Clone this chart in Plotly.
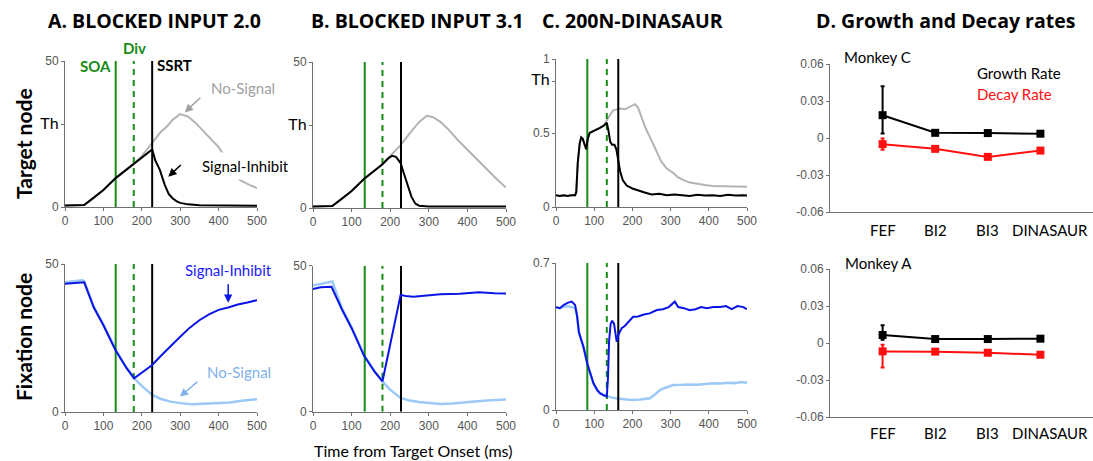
import plotly.graph_objects as go

W, H = 1093, 461

# ---------------- data ----------------
# Marker times (ms): SOA, divergence, SSRT for each model
soa_ms = [132, 134, 82]
div_ms = [179, 180, 133]
ssrt_ms = [227, 228, 163]
th_target = [28.1, 28.1, 0.85]

# A. Blocked Input 2.0 - target node
a_tgt_ns_t = [0, 50, 75, 100, 132, 160, 180, 200, 227, 250, 265, 280, 299, 320, 340, 360, 380, 400, 420, 440, 456, 480, 500]
a_tgt_ns_v = [0.5, 0.7, 3.2, 5.8, 9.9, 12.8, 15.0, 17.4, 22.0, 25.8, 27.5, 29.8, 31.8, 31.0, 28.8, 26.0, 23.2, 20.5, 16.5, 12.5, 9.2, 7.6, 6.5]
a_tgt_si_t = [0, 50, 75, 100, 132, 160, 180, 200, 215, 227, 235, 247, 260, 270, 280, 290, 300, 320, 350, 400, 450, 500]
a_tgt_si_v = [0.5, 0.7, 3.2, 5.8, 9.9, 12.8, 15.0, 17.2, 18.6, 19.7, 16.0, 12.7, 7.5, 4.5, 3.0, 2.0, 1.4, 0.9, 0.6, 0.5, 0.4, 0.4]
# A. Blocked Input 2.0 - fixation node
a_fix_ns_t = [0, 20, 45, 50, 75, 100, 132, 160, 180, 200, 227, 250, 275, 300, 330, 360, 400, 430, 460, 500]
a_fix_ns_v = [43.8, 44.0, 44.5, 44.2, 35.5, 29.5, 21.0, 15.0, 11.4, 8.8, 5.8, 4.4, 3.5, 3.0, 2.6, 2.8, 3.1, 3.2, 3.8, 4.3]
a_fix_si_t = [0, 20, 45, 50, 75, 100, 132, 160, 180, 200, 227, 250, 275, 300, 325, 350, 375, 400, 425, 450, 475, 500]
a_fix_si_v = [43.3, 43.5, 44.0, 43.8, 35.3, 29.3, 20.8, 14.9, 11.4, 13.2, 15.9, 19.0, 22.3, 25.4, 28.5, 31.0, 33.0, 34.5, 35.3, 36.3, 37.0, 37.8]

# B. Blocked Input 3.1 - target node
b_tgt_ns_t = [0, 50, 75, 100, 132, 160, 180, 200, 227, 250, 275, 295, 310, 330, 350, 375, 400, 425, 450, 475, 500]
b_tgt_ns_v = [0.5, 0.7, 3.2, 5.8, 9.9, 12.8, 15.0, 17.8, 21.5, 25.5, 29.5, 31.6, 31.2, 29.5, 27.0, 23.3, 19.9, 16.6, 13.3, 10.0, 7.0]
b_tgt_si_t = [0, 50, 75, 100, 132, 160, 180, 195, 205, 215, 227, 235, 245, 255, 265, 275, 300, 400, 500]
b_tgt_si_v = [0.5, 0.7, 3.2, 5.8, 9.9, 12.8, 15.0, 17.0, 17.9, 17.5, 15.4, 12.0, 7.5, 3.9, 1.5, 0.8, 0.5, 0.5, 0.5]
# B. Blocked Input 3.1 - fixation node
b_fix_ns_t = [0, 40, 50, 75, 100, 132, 160, 180, 200, 227, 250, 275, 300, 330, 360, 400, 450, 500]
b_fix_ns_v = [43.2, 44.5, 44.6, 35.5, 29.0, 19.4, 13.8, 10.4, 7.5, 4.7, 3.8, 3.3, 3.0, 2.6, 2.8, 3.3, 3.8, 4.2]
b_fix_si_t = [0, 20, 48, 75, 100, 132, 160, 180, 227, 240, 260, 300, 330, 380, 430, 470, 500]
b_fix_si_v = [42.0, 42.6, 42.8, 35.0, 28.6, 19.2, 13.6, 10.4, 40.0, 39.6, 39.4, 39.8, 40.2, 40.4, 40.9, 40.6, 40.5]

# C. 200N-DINASAUR - target node
c_tgt_si_t = [0, 10, 20, 30, 40, 50, 53, 57, 62, 66, 70, 75, 79, 83, 88, 95, 105, 115, 125, 133, 137, 142, 147, 153, 158, 163, 168, 175, 185, 200, 215, 230, 250, 270, 290, 310, 330, 350, 370, 390, 410, 430, 450, 470, 490, 500]
c_tgt_si_v = [0.08, 0.075, 0.08, 0.075, 0.08, 0.08, 0.10, 0.30, 0.43, 0.47, 0.46, 0.42, 0.39, 0.46, 0.50, 0.51, 0.52, 0.535, 0.55, 0.57, 0.52, 0.44, 0.42, 0.42, 0.39, 0.32, 0.24, 0.18, 0.145, 0.125, 0.11, 0.10, 0.085, 0.09, 0.08, 0.085, 0.08, 0.075, 0.082, 0.078, 0.08, 0.075, 0.082, 0.078, 0.08, 0.078]
c_tgt_ns_t = [0, 10, 20, 30, 40, 50, 53, 57, 62, 66, 70, 75, 79, 83, 88, 95, 105, 115, 125, 130, 135, 141, 150, 160, 170, 180, 190, 200, 207, 215, 225, 235, 250, 262, 275, 290, 307, 320, 335, 351, 370, 390, 410, 430, 450, 470, 490, 500]
c_tgt_ns_v = [0.08, 0.075, 0.08, 0.075, 0.08, 0.08, 0.10, 0.30, 0.43, 0.47, 0.46, 0.42, 0.39, 0.46, 0.50, 0.51, 0.52, 0.535, 0.55, 0.575, 0.60, 0.62, 0.655, 0.66, 0.665, 0.66, 0.675, 0.685, 0.695, 0.67, 0.60, 0.53, 0.45, 0.38, 0.31, 0.26, 0.23, 0.20, 0.18, 0.165, 0.155, 0.148, 0.142, 0.14, 0.14, 0.137, 0.135, 0.137]
# C. 200N-DINASAUR - fixation node
c_fix_ns_t = [0, 10, 20, 30, 40, 50, 55, 60, 65, 72, 82, 90, 98, 108, 115, 125, 133, 145, 160, 180, 200, 220, 246, 260, 272, 285, 307, 330, 350, 370, 390, 412, 430, 450, 470, 485, 500]
c_fix_ns_v = [0.49, 0.485, 0.49, 0.495, 0.49, 0.485, 0.45, 0.37, 0.34, 0.30, 0.22, 0.17, 0.127, 0.095, 0.08, 0.07, 0.065, 0.06, 0.055, 0.05, 0.048, 0.05, 0.056, 0.075, 0.095, 0.105, 0.119, 0.12, 0.122, 0.12, 0.125, 0.127, 0.126, 0.13, 0.128, 0.133, 0.13]
c_fix_si_t = [0, 10, 20, 30, 41, 50, 55, 60, 65, 72, 82, 90, 98, 108, 115, 125, 133, 136, 139, 143, 147, 152, 156, 159, 164, 172, 180, 190, 202, 215, 230, 245, 264, 280, 295, 311, 320, 335, 350, 365, 380, 395, 412, 430, 445, 460, 475, 490, 500]
c_fix_si_v = [0.49, 0.485, 0.50, 0.51, 0.516, 0.50, 0.45, 0.37, 0.34, 0.30, 0.22, 0.17, 0.127, 0.095, 0.08, 0.07, 0.065, 0.15, 0.33, 0.41, 0.425, 0.41, 0.36, 0.325, 0.36, 0.39, 0.40, 0.42, 0.444, 0.445, 0.455, 0.46, 0.476, 0.48, 0.49, 0.516, 0.49, 0.485, 0.475, 0.48, 0.49, 0.485, 0.49, 0.49, 0.495, 0.48, 0.495, 0.49, 0.48]

# D. Growth and decay rates
sites = ["FEF", "BI2", "BI3", "DINASAUR"]
site_pos = [1, 2, 3, 4]
growth_c = [0.0185, 0.0042, 0.0040, 0.0035]
growth_c_up = [0.0235, 0.0008, 0.0008, 0.0008]
growth_c_dn = [0.0148, 0.0008, 0.0008, 0.0008]
decay_c = [-0.0050, -0.0088, -0.0153, -0.0102]
decay_c_up = [0.0045, 0.0008, 0.0008, 0.0008]
decay_c_dn = [0.0045, 0.0008, 0.0008, 0.0008]
growth_a = [0.0065, 0.0032, 0.0032, 0.0035]
growth_a_up = [0.0078, 0.0006, 0.0006, 0.0006]
growth_a_dn = [0.0038, 0.0006, 0.0006, 0.0006]
decay_a = [-0.0068, -0.0070, -0.0079, -0.0095]
decay_a_up = [0.0054, 0.0006, 0.0006, 0.0006]
decay_a_dn = [0.0130, 0.0006, 0.0006, 0.0006]

# ---------------- styling ----------------
GREEN = "#168c16"
GRAY = "#b3b3b3"
BLUE = "#0a14e6"
LIGHT = "#9cc9f5"
RED = "#ff1010"
TICK = "#555555"
AX = "#6f6f6f"
TXT = "Lato"
HEAD = "Open Sans"
NUM = "Liberation Sans"


def xp(px):
    return px / W


def yp(py):
    return 1 - py / H


fig = go.Figure()

# panel layout in pixels: (left, right, top, bottom)
boxes = {
    1: (65, 257, 61, 207), 2: (313, 506, 62, 208), 3: (556, 747, 59, 207), 4: (830, 1093, 64, 212),
    5: (65, 257, 264, 412), 6: (313, 506, 265.7, 411.7), 7: (556, 747, 263, 410), 8: (830, 1093, 269, 417),
}


def axname(i, kind):
    return kind + ("" if i == 1 else str(i))


def line(i, t, v, color, width=2, dash=None):
    fig.add_trace(go.Scatter(
        x=t, y=v, mode="lines", line=dict(color=color, width=width, dash=dash),
        xaxis=axname(i, "x"), yaxis=axname(i, "y"), showlegend=False, hoverinfo="skip"))


def markers(i, top):
    k = (i - 1) % 4
    line(i, [soa_ms[k]] * 2, [0, top], GREEN)
    line(i, [div_ms[k]] * 2, [0, top], GREEN, dash="6px,5px")
    line(i, [ssrt_ms[k]] * 2, [0, top], "black")


# Time-course panels
line(1, a_tgt_ns_t, a_tgt_ns_v, GRAY)
markers(1, 50)
line(1, a_tgt_si_t, a_tgt_si_v, "black")

line(5, a_fix_ns_t, a_fix_ns_v, LIGHT, width=2.5)
markers(5, 50)
line(5, a_fix_si_t, a_fix_si_v, BLUE)

line(2, b_tgt_ns_t, b_tgt_ns_v, GRAY)
markers(2, 50)
line(2, b_tgt_si_t, b_tgt_si_v, "black")

line(6, b_fix_ns_t, b_fix_ns_v, LIGHT, width=2.5)
markers(6, 50)
line(6, b_fix_si_t, b_fix_si_v, BLUE)

line(3, c_tgt_ns_t, c_tgt_ns_v, GRAY)
markers(3, 1)
line(3, c_tgt_si_t, c_tgt_si_v, "black")

line(7, c_fix_ns_t, c_fix_ns_v, LIGHT, width=2.5)
markers(7, 0.7)
line(7, c_fix_si_t, c_fix_si_v, BLUE)


# Rate panels
def rates(i, vals, up, dn, color):
    fig.add_trace(go.Scatter(
        x=site_pos, y=vals, mode="lines+markers",
        line=dict(color=color, width=2),
        marker=dict(symbol="square", size=8, color=color),
        error_y=dict(type="data", array=up, arrayminus=dn, color=color, thickness=2, width=2),
        xaxis=axname(i, "x"), yaxis=axname(i, "y"), showlegend=False, hoverinfo="skip"))


rates(4, decay_c, decay_c_up, decay_c_dn, RED)
rates(4, growth_c, growth_c_up, growth_c_dn, "black")
rates(8, decay_a, decay_a_up, decay_a_dn, RED)
rates(8, growth_a, growth_a_up, growth_a_dn, "black")

# ---------------- axes ----------------
TH = '<span style="font-size:16px;color:black;font-family:Lato">Th</span>'
yticks = {
    1: ([0, th_target[0], 50], ["0", TH, "50"], [0, 50]),
    2: ([0, th_target[1], 50], ["0", TH, "50"], [0, 50]),
    3: ([0, 0.5, th_target[2], 1], ["0", "0.5", TH, "1"], [0, 1]),
    5: ([0, 50], ["0", "50"], [0, 50]),
    6: ([0, 50], ["0", "50"], [0, 50]),
    7: ([0, 0.7], ["0", "0.7"], [0, 0.7]),
    4: ([-0.06, -0.03, 0, 0.03, 0.06], ["-0.06", "-0.03", "0", "0.03", "0.06"], [-0.06, 0.06]),
    8: ([-0.06, -0.03, 0, 0.03, 0.06], ["-0.06", "-0.03", "0", "0.03", "0.06"], [-0.06, 0.06]),
}

layout_axes = {}
for i, (l, r, t, b) in boxes.items():
    tv, tt, yr = yticks[i]
    common = dict(showline=True, linecolor=AX, linewidth=1, showgrid=False, zeroline=False,
                  automargin=False, ticks="outside", ticklen=3, tickcolor=AX,
                  tickfont=dict(family=NUM, size=12, color=TICK))
    if i in (4, 8):
        # site names are written as annotations below the axis
        xa = dict(common, domain=[xp(l), xp(r)], range=[0, 5], tickvals=site_pos,
                  showticklabels=False, ticks="", ticklen=0, anchor=axname(i, "y"))
    else:
        xa = dict(common, domain=[xp(l), xp(r)], range=[0, 500], tickvals=[0, 100, 200, 300, 400, 500],
                  tickangle=0, anchor=axname(i, "y"))
    ya = dict(common, domain=[yp(b), yp(t)], range=yr, tickvals=tv, ticktext=tt,
              anchor=axname(i, "x"))
    layout_axes[("xaxis" if i == 1 else f"xaxis{i}")] = xa
    layout_axes[("yaxis" if i == 1 else f"yaxis{i}")] = ya

fig.update_layout(**layout_axes)

# ---------------- text ----------------
ann = []


def label(px, py, text, size=15, color="black", bold=False, angle=0, family=TXT, bg=None):
    a = dict(x=xp(px), y=yp(py), xref="paper", yref="paper", text=f"<b>{text}</b>" if bold else text,
             showarrow=False, xanchor="center", yanchor="middle", textangle=angle,
             font=dict(family=family, size=size, color=color))
    if bg:
        a.update(bgcolor=bg, borderpad=4)
    ann.append(a)


def arrow(axis_i, t, v, dx, dy, color):
    ann.append(dict(x=t, y=v, xref=axname(axis_i, "x"), yref=axname(axis_i, "y"), text="",
                    showarrow=True, arrowhead=2, arrowsize=1.1, arrowwidth=1.5, arrowcolor=color,
                    ax=dx, ay=dy))


# site names under the rate panels; the last one sits a little right of its tick
for axis_i, py in ((4, 230), (8, 433)):
    for pos, name in zip(site_pos, sites):
        ann.append(dict(x=pos, y=yp(py), xref=axname(axis_i, "x"), yref="paper", text=name,
                        showarrow=False, xanchor="center", yanchor="middle",
                        xshift=10 if name == sites[-1] else 0,
                        font=dict(family=TXT, size=15, color="black")))

# panel titles
label(154, 20, "A. BLOCKED INPUT 2.0", size=19.5, bold=True, family=HEAD)
label(417, 21, "B. BLOCKED INPUT 3.1", size=19.5, bold=True, family=HEAD)
label(632, 21, "C. 200N-DINASAUR", size=19.5, bold=True, family=HEAD)
label(945, 21, "D. Growth and Decay rates", size=19.5, bold=True, family=HEAD)

# row / axis titles
label(23, 144, "Target node", size=21, bold=True, angle=-90)
label(23, 337, "Fixation node", size=21, bold=True, angle=-90)
label(413, 450, "Time from Target Onset (ms)", size=16)

# event labels
label(95, 66, "SOA", size=15, color=GREEN, bold=True)
label(134, 48, "Div", size=15, color=GREEN, bold=True)
label(174, 65, "SSRT", size=15, color="black", bold=True)

# trace labels and pointers
label(243, 88, "No-Signal", size=15, color="#a0a0a0")
arrow(1, 312, 32.4, 17, -16, "#a0a0a0")
label(245, 166, "Signal-Inhibit", size=15, color="black", bg="white")
arrow(1, 269, 10.4, 14, -13, "black")
label(228, 270, "Signal-Inhibit", size=15, color="#1a1aff")
arrow(5, 425, 36.9, 0, -20, BLUE)
label(239, 372, "No-Signal", size=15, color="#7fb2ea")
arrow(5, 299, 5.2, 19, -16, "#7fb2ea")

# rate panel labels
label(877, 57, "Monkey C", size=15)
label(1019, 73, "Growth Rate", size=15)
label(1014, 94, "Decay Rate", size=15, color=RED)
label(878, 263, "Monkey A", size=15)

fig.update_layout(
    template="none",
    width=W, height=H, margin=dict(l=0, r=0, t=0, b=0, pad=0, autoexpand=False),
    paper_bgcolor="white", plot_bgcolor="white", showlegend=False,
    annotations=ann,
)

fig.write_html("out.html")
